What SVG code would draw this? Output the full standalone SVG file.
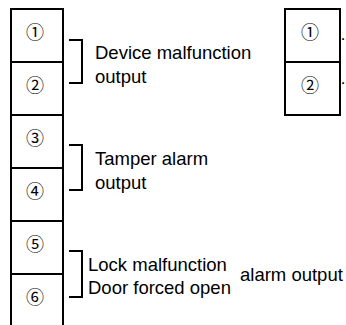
<svg xmlns="http://www.w3.org/2000/svg" width="346" height="325" viewBox="0 0 346 325">
<style>
.box{fill:#fff;stroke:#000;stroke-width:2}
.ln{fill:none;stroke:#000;stroke-width:2}
.num{font-family:"Noto Sans CJK JP","DejaVu Sans",sans-serif;font-size:18px;text-anchor:middle;dominant-baseline:central;fill:#000}
.lbl{font-family:"Liberation Sans",Arial,sans-serif;font-size:18.5px;fill:#000}
.dot{font-family:"Liberation Sans",Arial,sans-serif;font-size:17px;text-anchor:end;fill:#000}
</style>
<rect width="346" height="325" fill="#fff"/>
<g id="left-terminal">
<path class="ln" d="M11,330 V9 H63 V330 M11,62 H63 M11,115 H63 M11,168 H63 M11,221 H63 M11,274 H63"/>
<text class="num" x="35" y="31">①</text>
<text class="num" x="35" y="84">②</text>
<text class="num" x="35" y="137">③</text>
<text class="num" x="35" y="190">④</text>
<text class="num" x="35" y="243">⑤</text>
<text class="num" x="35" y="296">⑥</text>
</g>
<g id="right-terminal">
<rect class="box" x="285" y="9" width="55" height="106"/>
<line class="ln" x1="285" y1="62" x2="340" y2="62"/>
<text class="num" x="310" y="31">①</text>
<text class="num" x="310" y="84">②</text>
<text class="dot" x="346" y="44">·</text>
<text class="dot" x="346" y="88">·</text>
</g>
<g id="connectors">
<path class="ln" d="M69,40 H82 V83 H69"/>
<path class="ln" d="M69,145 H82 V190 H69"/>
<path class="ln" d="M69,251 H82 V297 H69"/>
</g>
<g id="labels">
<text class="lbl" x="95" y="59">Device malfunction</text>
<text class="lbl" x="95" y="83">output</text>
<text class="lbl" x="95" y="165">Tamper alarm</text>
<text class="lbl" x="95" y="189">output</text>
<text class="lbl" x="88" y="271">Lock malfunction</text>
<text class="lbl" x="88" y="294">Door forced open</text>
<text class="lbl" x="240" y="281">alarm output</text>
</g>
</svg>
